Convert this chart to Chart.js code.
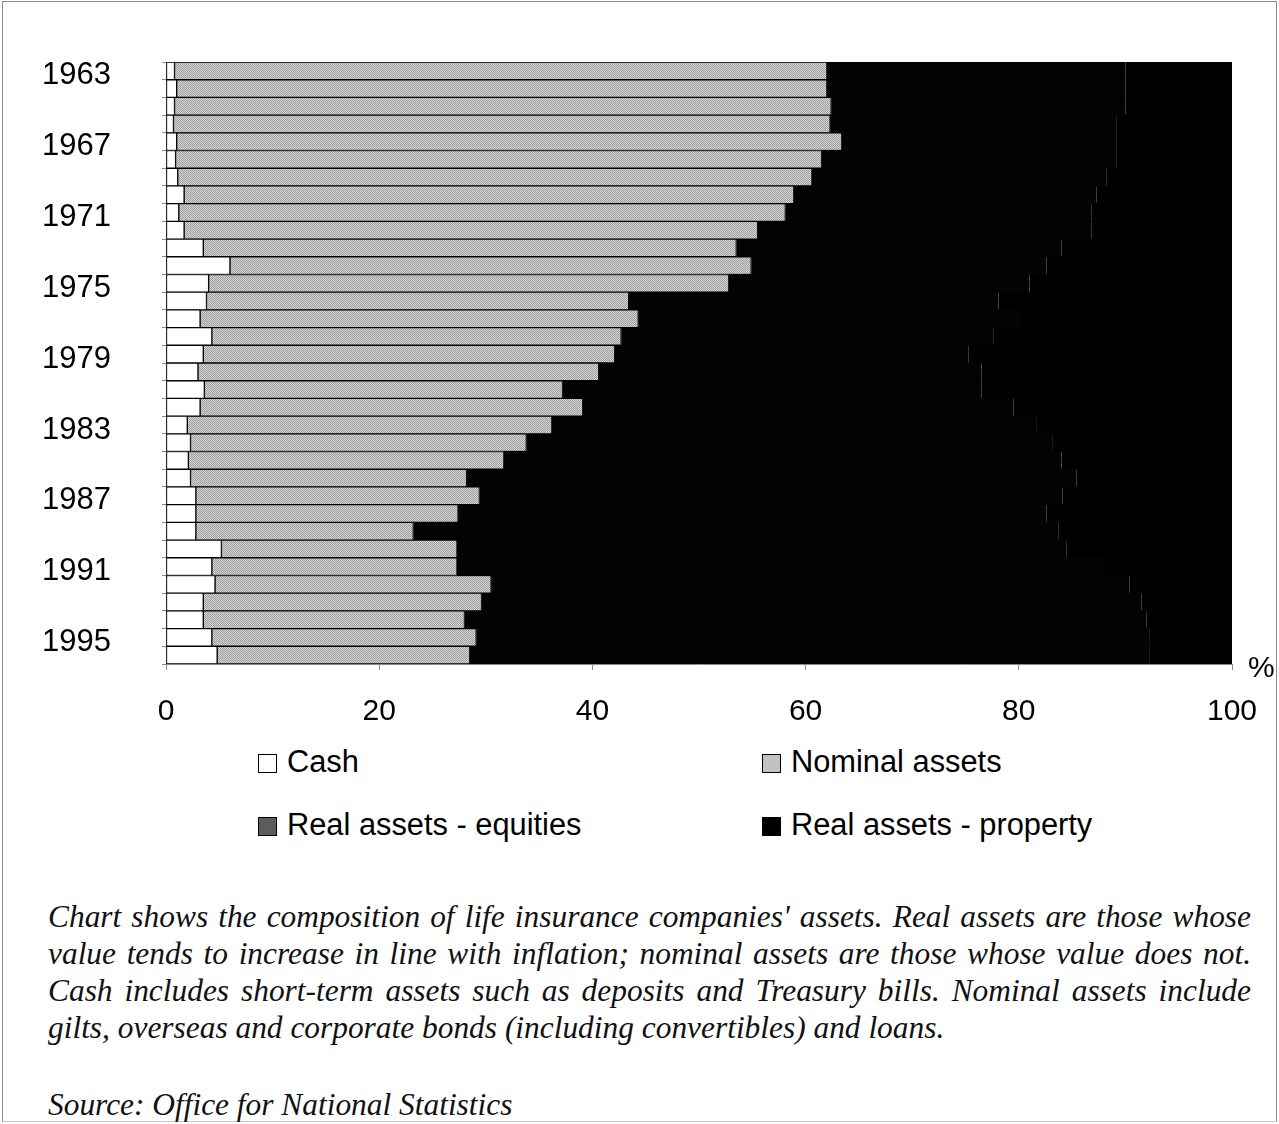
<!DOCTYPE html>
<html>
<head>
<meta charset="utf-8">
<script src="https://cdn.jsdelivr.net/npm/chart.js@4.4.1/dist/chart.umd.min.js"></script>
<style>
  html, body { margin: 0; padding: 0; background: #fff; }
  body { width: 1279px; height: 1124px; position: relative; overflow: hidden; }
  #frame { position: absolute; left: 2px; top: 1px; width: 1273px; height: 1119px; border: 1px solid #8a8a8a; border-bottom-color: #c8c8c8; }
  #wrap { position: absolute; left: 0; top: 0; width: 1279px; height: 740px; }
  #pct { position: absolute; left: 1248px; top: 650px; font: 30px "Liberation Sans", Arial, sans-serif; color: #000; }
  .leg { position: absolute; font: 30.8px "Liberation Sans", Arial, sans-serif; color: #000; white-space: nowrap; line-height: 34px; }
  .leg i { display: inline-block; width: 19px; height: 19px; border: 1px solid #000; vertical-align: -1px; margin-right: 10px; box-sizing: border-box; }
  #note { position: absolute; left: 48px; top: 898px; width: 1203px; font: italic 31.4px "Liberation Serif", "Times New Roman", serif; color: #111; line-height: 37px; }
  #note .j { text-align: justify; text-align-last: justify; white-space: nowrap; }
  #note .l { white-space: nowrap; }
  #source { position: absolute; left: 48px; top: 1087px; font: italic 31.4px "Liberation Serif", "Times New Roman", serif; color: #111; }
</style>
</head>
<body>
<div id="frame"></div>
<div id="wrap"><canvas id="c" width="1279" height="740"></canvas></div>
<div id="pct">%</div>
<div id="legend"></div>
<div id="note">
  <div class="j">Chart shows the composition of life insurance companies' assets. Real assets are those whose</div>
  <div class="j">value tends to increase in line with inflation; nominal assets are those whose value does not.</div>
  <div class="j">Cash includes short-term assets such as deposits and Treasury bills. Nominal assets include</div>
  <div class="l">gilts, overseas and corporate bonds (including convertibles) and loans.</div>
</div>
<div id="source">Source: Office for National Statistics</div>
<script>
// Life insurance companies' asset mix, per cent of total, 1963-1996
const years = [
  '1963','1964','1965','1966','1967','1968','1969','1970','1971','1972','1973','1974',
  '1975','1976','1977','1978','1979','1980','1981','1982','1983','1984','1985','1986',
  '1987','1988','1989','1990','1991','1992','1993','1994','1995','1996'
];
const cash = [
  0.8, 1.0, 0.8, 0.7, 1.0, 0.9, 1.1, 1.7, 1.2, 1.7, 3.5, 6.0,
  4.0, 3.8, 3.2, 4.3, 3.5, 3.0, 3.6, 3.2, 2.0, 2.3, 2.1, 2.3,
  2.8, 2.8, 2.8, 5.2, 4.3, 4.6, 3.5, 3.5, 4.3, 4.8
];
const nominal = [
  61.2, 61.0, 61.6, 61.6, 62.4, 60.6, 59.5, 57.2, 56.9, 53.8, 50.0, 48.9,
  48.8, 39.6, 41.1, 38.4, 38.6, 37.6, 33.6, 35.9, 34.2, 31.5, 29.6, 25.9,
  26.6, 24.6, 20.4, 22.1, 23.0, 25.9, 26.1, 24.5, 24.8, 23.7
];
const equities = [
  28.0, 28.0, 27.6, 26.9, 25.8, 27.7, 27.6, 28.4, 28.7, 31.3, 30.5, 27.7,
  28.2, 34.7, 36.0, 34.9, 33.2, 35.9, 39.3, 40.4, 45.5, 49.4, 52.3, 57.2,
  54.7, 55.2, 60.5, 57.2, 60.6, 59.9, 61.9, 64.0, 63.2, 63.8
];
const property = [
  10.0, 10.0, 10.0, 10.8, 10.8, 10.8, 11.8, 12.7, 13.2, 13.2, 16.0, 17.4,
  19.0, 21.9, 19.7, 22.4, 24.7, 23.5, 23.5, 20.5, 18.3, 16.8, 16.0, 14.6,
  15.9, 17.4, 16.3, 15.5, 12.1, 9.6, 8.5, 8.0, 7.7, 7.7
];
const seriesNames = ['Cash', 'Nominal assets', 'Real assets - equities', 'Real assets - property'];
const xTicks = [0, 20, 40, 60, 80, 100];

// dotted grey fill for the nominal assets segments
function dotted(light, dark) {
  const p = document.createElement('canvas');
  p.width = 2; p.height = 2;
  const g = p.getContext('2d');
  g.fillStyle = light; g.fillRect(0, 0, 2, 2);
  g.fillStyle = dark; g.fillRect(0, 0, 1, 1); g.fillRect(1, 1, 1, 1);
  return g.createPattern(p, 'repeat');
}

const ctx = document.getElementById('c').getContext('2d');
const nominalFill = dotted('#d6d6d6', '#9c9c9c');
const fills = ['#ffffff', nominalFill, '#030303', '#000000'];
const swatches = ['#ffffff', '#c2c2c2', '#5c5c5c', '#000000'];
const values = [cash, nominal, equities, property];

const yFont = { family: '"Liberation Sans", Arial, sans-serif', size: 31 };
// tall line box pushes the percentage labels down below the short tick marks
const xFont = { family: '"Liberation Sans", Arial, sans-serif', size: 30, lineHeight: 2.6 };

new Chart(ctx, {
  type: 'bar',
  data: {
    labels: years,
    datasets: seriesNames.map((name, i) => ({
      label: name,
      data: values[i],
      backgroundColor: fills[i],
      borderColor: '#000',
      borderWidth: i < 2 ? 1 : 0,
      borderSkipped: false,
      // the dark segments overlap slightly so no seams show between rows
      barPercentage: i < 2 ? 1 : 1.06,
      categoryPercentage: 1
    }))
  },
  options: {
    indexAxis: 'y',
    responsive: false,
    animation: false,
    events: [],
    layout: { padding: { left: 42, right: 47, top: 62, bottom: 0 } },
    plugins: { legend: { display: false }, tooltip: { enabled: false } },
    scales: {
      x: {
        stacked: true,
        min: 0,
        max: 100,
        afterBuildTicks: s => { s.ticks = xTicks.map(v => ({ value: v })); },
        afterFit: s => { s.height = 76; },
        ticks: { font: xFont, color: '#000', padding: 3 },
        grid: { drawOnChartArea: false, drawTicks: true, tickLength: 6, color: '#8a8a8a' },
        border: { display: true, color: '#8a8a8a', width: 1 }
      },
      y: {
        stacked: true,
        afterFit: s => { s.width = 124; },
        ticks: {
          autoSkip: false,
          font: yFont,
          color: '#000',
          padding: 0,
          labelOffset: 5,
          crossAlign: 'far',
          callback: (v, i) => (i % 4 === 0 ? years[i] : '')
        },
        grid: { drawOnChartArea: false, drawTicks: true, tickLength: 4, color: '#8a8a8a' },
        border: { display: true, color: '#8a8a8a', width: 1 }
      }
    }
  }
});

// two-column legend below the axis
const legendPos = [[258, 745], [762, 745], [258, 808], [762, 808]];
const legend = document.getElementById('legend');
seriesNames.forEach((name, i) => {
  const d = document.createElement('div');
  d.className = 'leg';
  d.style.left = legendPos[i][0] + 'px';
  d.style.top = legendPos[i][1] + 'px';
  const sw = document.createElement('i');
  sw.style.background = swatches[i];
  d.appendChild(sw);
  d.appendChild(document.createTextNode(name));
  legend.appendChild(d);
});
</script>
</body>
</html>
